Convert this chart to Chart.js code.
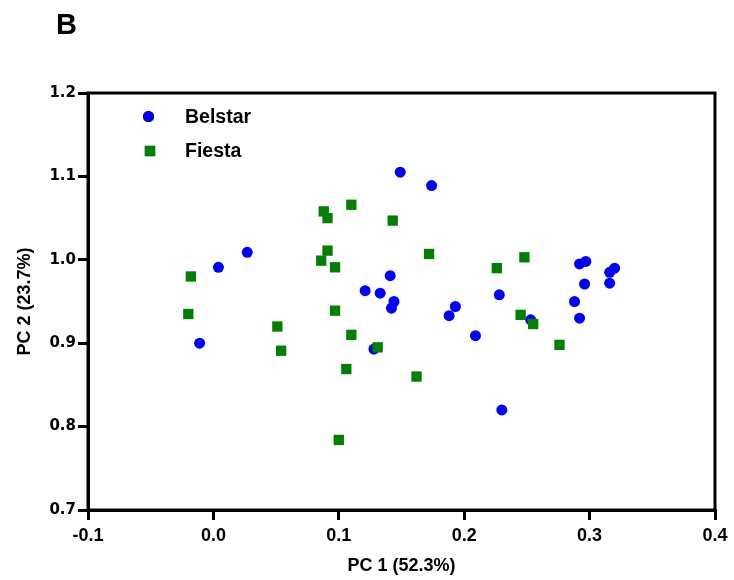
<!DOCTYPE html>
<html>
<head>
<meta charset="utf-8">
<script src="https://cdn.jsdelivr.net/npm/chart.js@4/dist/chart.umd.min.js"></script>
<style>
  html, body { margin: 0; padding: 0; background: #ffffff; }
  #wrap { width: 734px; height: 580px; position: relative; }
</style>
</head>
<body>
<div id="wrap"><canvas id="c" width="734" height="580"></canvas></div>
<script>
// ---- Data ----
const panelLabel = "B";
const seriesNames = ["Belstar", "Fiesta"];
const xAxisTitle = "PC 1 (52.3%)";
const yAxisTitle = "PC 2 (23.7%)";

const belstarX = [0.149, 0.174, 0.027, 0.004, 0.141, 0.121, 0.133, 0.144, 0.142, -0.011, 0.128,
                  0.292, 0.297, 0.316, 0.320, 0.296, 0.316, 0.228, 0.288, 0.193, 0.188, 0.253, 0.292, 0.209, 0.230];
const belstarY = [1.105, 1.089, 1.009, 0.991, 0.981, 0.963, 0.960, 0.950, 0.942, 0.900, 0.893,
                  0.995, 0.998, 0.985, 0.990, 0.971, 0.972, 0.958, 0.950, 0.944, 0.933, 0.928, 0.930, 0.909, 0.820];

const fiestaX = [0.110, 0.088, 0.091, 0.143, 0.091, 0.086, 0.097, -0.018, 0.172, 0.226, 0.248, -0.020,
                 0.097, 0.051, 0.110, 0.054, 0.131, 0.106, 0.100, 0.245, 0.255, 0.276, 0.162];
const fiestaY = [1.066, 1.058, 1.050, 1.047, 1.011, 0.999, 0.991, 0.980, 1.007, 0.990, 1.003, 0.935,
                 0.939, 0.920, 0.910, 0.891, 0.895, 0.869, 0.784, 0.934, 0.923, 0.898, 0.860];

const xMin = -0.1, xMax = 0.4, xStep = 0.1;
const yMin = 0.7, yMax = 1.2, yStep = 0.1;

const colors = ["#0000FF", "#008000"];
const styles = ["circle", "rect"];
const radii = [5.5, 7.3];

function toPoints(xs, ys) { return xs.map((x, i) => ({ x: x, y: ys[i] })); }

const yTickFont = { family: "'DejaVu Sans'", weight: "bold", size: 15 };
const xTickFont = { family: "'Liberation Sans'", weight: "bold", size: 18 };
const titleFont = { family: "'Liberation Sans'", weight: "bold", size: 18 };

const fmt = v => (Math.abs(v) < 1e-9 ? 0 : v).toFixed(1);

const boxPlugin = {
  id: "boxAndLabels",
  afterDraw(chart) {
    const ctx = chart.ctx;
    const a = chart.chartArea;
    ctx.save();
    ctx.strokeStyle = "#000";
    ctx.lineWidth = 3;
    ctx.strokeRect(a.left, a.top, a.right - a.left, a.bottom - a.top);

    // panel label
    ctx.fillStyle = "#000";
    ctx.font = "bold 29px 'Liberation Sans', Arial, sans-serif";
    ctx.textAlign = "left";
    ctx.textBaseline = "alphabetic";
    ctx.fillText(panelLabel, 56, 34);

    // legend inside plot area
    const rows = [117.5, 152];
    const markX = [148.5, 150];
    chart.data.datasets.forEach((ds, i) => {
      Chart.helpers.drawPoint(ctx, {
        pointStyle: ds.pointStyle, radius: ds.pointRadius, borderWidth: 0, rotation: 0
      }, markX[i], rows[i] - 1);
      ctx.fillStyle = ds.backgroundColor;
      ctx.fill();
      ctx.fillStyle = "#000";
      ctx.font = "bold 19.5px 'Liberation Sans', Arial, sans-serif";
      ctx.textBaseline = "middle";
      ctx.fillText(ds.label, 185, rows[i]);
    });
    ctx.restore();
  }
};

const datasets = [
  { label: seriesNames[0], data: toPoints(belstarX, belstarY), order: 1 },
  { label: seriesNames[1], data: toPoints(fiestaX, fiestaY), order: 0 }
].map((d, i) => Object.assign(d, {
  backgroundColor: colors[i],
  borderColor: colors[i],
  borderWidth: 0,
  pointStyle: styles[i],
  pointRadius: radii[i],
  pointHoverRadius: radii[i]
}));

new Chart(document.getElementById("c"), {
  type: "scatter",
  data: { datasets: datasets },
  options: {
    responsive: false,
    animation: false,
    devicePixelRatio: 1,
    layout: { padding: { left: 0, top: 93, right: 19, bottom: 0 } },
    plugins: { legend: { display: false }, tooltip: { enabled: false } },
    scales: {
      x: {
        type: "linear", min: xMin, max: xMax,
        afterFit(scale) { scale.height = 70; },
        ticks: { stepSize: xStep, color: "#000", font: xTickFont, padding: 5, maxRotation: 0, callback: fmt },
        grid: { drawOnChartArea: false, drawTicks: true, tickLength: 10, color: "#000", lineWidth: 3 },
        border: { display: true, color: "#000", width: 3 },
        title: { display: true, text: xAxisTitle, color: "#000", font: titleFont, padding: { top: 0, bottom: 3 } }
      },
      y: {
        type: "linear", min: yMin, max: yMax,
        afterFit(scale) { scale.width = 88; },
        ticks: { stepSize: yStep, color: "#000", font: yTickFont, padding: 2, callback: fmt },
        grid: { drawOnChartArea: false, drawTicks: true, tickLength: 10, color: "#000", lineWidth: 3 },
        border: { display: true, color: "#000", width: 3 },
        title: { display: true, text: yAxisTitle, color: "#000", font: titleFont, padding: { top: 14, bottom: 0 } }
      }
    }
  },
  plugins: [boxPlugin]
});
</script>
</body>
</html>
